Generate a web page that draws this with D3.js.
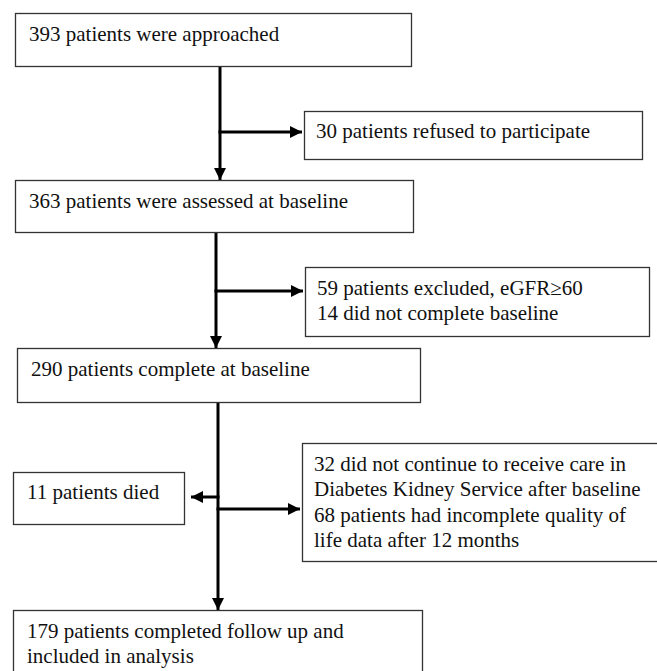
<!DOCTYPE html>
<html>
<head>
<meta charset="utf-8">
<script src="https://cdn.jsdelivr.net/npm/d3@7"></script>
<style>
  body { margin: 0; background: #fff; }
  svg text { font-family: "Liberation Serif", "Times New Roman", serif; font-size: 21px; fill: #111; }
</style>
</head>
<body>
<div id="chart"></div>
<script>
// flow steps (main column) and exclusions (side boxes)
const mainSteps = [
  ["393 patients were approached"],
  ["363 patients were assessed at baseline"],
  ["290 patients complete at baseline"],
  ["179 patients completed follow up and", "included in analysis"]
];
const sideRight = [
  ["30 patients refused to participate"],
  ["59 patients excluded, eGFR\u226560", "14 did not complete baseline"],
  ["32 did not continue to receive care in", "Diabetes Kidney Service after baseline",
   "68 patients had incomplete quality of", "life data after 12 months"]
];
const sideLeft = [
  ["11 patients died"]
];

// layout
const W = 657, H = 671;
const mainBoxes = [
  {x: 15, y: 13, w: 396, h: 53},
  {x: 15, y: 180, w: 398, h: 52},
  {x: 17, y: 348, w: 403, h: 54},
  {x: 13, y: 610, w: 409, h: 70}
];
const rightBoxes = [
  {x: 304, y: 111, w: 338, h: 48, ay: 132},
  {x: 305, y: 267, w: 344, h: 69, ay: 291},
  {x: 302, y: 443, w: 360, h: 118, ay: 509}
];
const leftBoxes = [
  {x: 13, y: 472, w: 171, h: 52, ay: 497}
];
const trunkX = [220, 216, 218];

const svg = d3.select("#chart").append("svg")
  .attr("width", W).attr("height", H);

const defs = svg.append("defs");
defs.append("marker")
  .attr("id", "head")
  .attr("viewBox", "0 0 10 10")
  .attr("refX", 10).attr("refY", 5)
  .attr("markerWidth", 4).attr("markerHeight", 4)
  .attr("markerUnits", "strokeWidth")
  .attr("orient", "auto")
  .append("path").attr("d", "M0,0L10,5L0,10Z").attr("fill", "#000");

function drawBox(b, lines, pad, lineH, firstBase) {
  svg.append("rect")
    .attr("x", b.x + 0.5).attr("y", b.y + 0.5)
    .attr("width", b.w).attr("height", b.h)
    .attr("fill", "#fff").attr("stroke", "#333").attr("stroke-width", 1.3);
  const t = svg.append("text");
  lines.forEach((s, i) => {
    t.append("tspan").attr("x", b.x + pad).attr("y", b.y + firstBase + i * lineH).text(s);
  });
}

function arrow(x1, y1, x2, y2) {
  svg.append("line")
    .attr("x1", x1).attr("y1", y1).attr("x2", x2).attr("y2", y2)
    .attr("stroke", "#000").attr("stroke-width", 3)
    .attr("marker-end", "url(#head)");
}

// trunk arrows between main boxes
for (let i = 0; i < 3; i++) {
  const a = mainBoxes[i], b = mainBoxes[i + 1];
  arrow(trunkX[i], a.y + a.h + 1, trunkX[i], b.y);
}
// side arrows
rightBoxes.forEach((b, i) => {
  arrow(trunkX[i] - 1.5, b.ay, b.x - 2, b.ay);
});
leftBoxes.forEach(b => {
  arrow(trunkX[2] + 1.5, b.ay, b.x + b.w + 7, b.ay);
});

mainBoxes.forEach((b, i) => drawBox(b, mainSteps[i], 14, 25.5, 27.5));
rightBoxes.forEach((b, i) => drawBox(b, sideRight[i], 12, 25.3, i === 0 ? 27 : 28));
leftBoxes.forEach((b, i) => drawBox(b, sideLeft[i], 14, 25, 26.5));
</script>
</body>
</html>
